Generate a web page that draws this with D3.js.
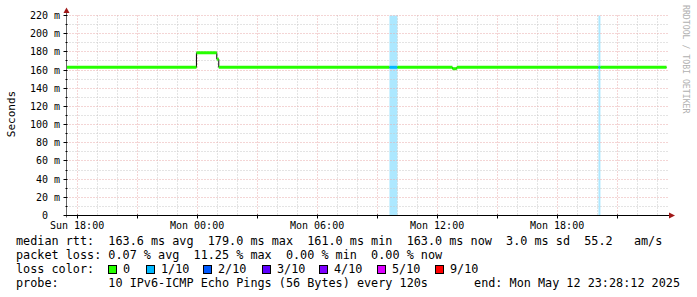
<!DOCTYPE html>
<html>
<head>
<meta charset="utf-8">
<script src="https://cdn.jsdelivr.net/npm/d3@7"></script>
<style>
  body { margin: 0; background: #fff; }
  svg { display: block; }
  text { font-family: "DejaVu Sans Mono", monospace; }
</style>
</head>
<body>
<svg id="chart" width="697" height="297"></svg>
<script>
// median rtt, as steps: each value holds from its time until the next one
var stepTimes = ["2025-05-11 17:28:12", "2025-05-11 23:58:00", "2025-05-12 00:59:00",
                 "2025-05-12 01:05:00", "2025-05-12 09:37:00", "2025-05-12 10:01:00",
                 "2025-05-12 12:46:00", "2025-05-12 12:59:00", "2025-05-12 20:04:00",
                 "2025-05-12 20:10:00"];
var stepMedian = [163, 179, 172, 163, 163, 163, 161.5, 163, 163, 163]; // ms
var stepLoss = [0, 0, 0, 0, 1, 0, 0, 0, 1, 0]; // pings lost out of 10
var endTime = "2025-05-12 23:28:12";

var yTicks = [0, 20, 40, 60, 80, 100, 120, 140, 160, 180, 200, 220];

var lossKeys = ["0", "1/10", "2/10", "3/10", "4/10", "5/10", "9/10"];
var lossColors = ["#26ff00", "#00b8ff", "#0059ff", "#5e00ff", "#7e00ff", "#dd00ff", "#ff0000"];
var lossBoxX = [108, 146, 203, 262, 319, 377, 435];

var legendLines = [
  "median rtt:  163.6 ms avg  179.0 ms max  161.0 ms min  163.0 ms now  3.0 ms sd  55.2   am/s",
  "packet loss: 0.07 % avg  11.25 % max  0.00 % min  0.00 % now",
  "loss color:",
  "probe:       10 IPv6-ICMP Echo Pings (56 Bytes) every 120s"
];
var endLabel = "end: Mon May 12 23:28:12 2025";

var parse = d3.timeParse("%Y-%m-%d %H:%M:%S");
var times = stepTimes.map(parse);
var tEnd = parse(endTime);

var svg = d3.select("#chart");
var plotL = 66.5, plotR = 666.5, plotT = 15.5, plotB = 215.5;

var x = d3.scaleTime().domain([times[0], tEnd]).range([plotL, plotR]);
var y = d3.scaleLinear().domain([0, 220]).range([plotB, plotT]);

function px(v) { return Math.round(v - 0.5) + 0.5; }

// loss background bars
var segs = times.map(function (t, i) {
  return { t0: t, t1: i + 1 < times.length ? times[i + 1] : tEnd, v: stepMedian[i], loss: stepLoss[i] };
});

svg.append("g").selectAll("rect")
  .data(segs.filter(function (d) { return d.loss > 0; }))
  .enter().append("rect")
  .attr("x", function (d) { return x(d.t0); })
  .attr("width", function (d) { return Math.max(2, x(d.t1) - x(d.t0)); })
  .attr("y", plotT)
  .attr("height", plotB - plotT)
  .attr("fill", function (d) { return lossColors[d.loss]; })
  .attr("fill-opacity", 0.32);

// grid
var grid = svg.append("g").attr("stroke-dasharray", "1,2").attr("stroke-width", 1);
var minorY = d3.range(10, 221, 10).filter(function (v) { return v % 20 !== 0; });
grid.selectAll("line.hmin").data(minorY).enter().append("line")
  .attr("x1", plotL).attr("x2", plotR + 2)
  .attr("y1", function (d) { return px(y(d)); }).attr("y2", function (d) { return px(y(d)); })
  .attr("stroke", "#c8c8c8");
grid.selectAll("line.vmin").data(x.ticks(d3.timeHour.every(1)).filter(function (d) { return d.getHours() % 3 !== 0; }))
  .enter().append("line")
  .attr("x1", function (d) { return px(x(d)); }).attr("x2", function (d) { return px(x(d)); })
  .attr("y1", plotT).attr("y2", plotB)
  .attr("stroke", "#c8c8c8");
grid.selectAll("line.hmaj").data(yTicks.slice(1)).enter().append("line")
  .attr("x1", plotL).attr("x2", plotR + 2)
  .attr("y1", function (d) { return px(y(d)); }).attr("y2", function (d) { return px(y(d)); })
  .attr("stroke", "#e8aaaa");
grid.selectAll("line.vmaj").data(x.ticks(d3.timeHour.every(3)))
  .enter().append("line")
  .attr("x1", function (d) { return px(x(d)); }).attr("x2", function (d) { return px(x(d)); })
  .attr("y1", plotT).attr("y2", plotB)
  .attr("stroke", "#e8aaaa");

// median line: thin black steps, then thick loss-coloured levels
var stepLine = d3.line()
  .x(function (d) { return d[0]; })
  .y(function (d) { return d[1]; })
  .curve(d3.curveStepAfter);
var pts = segs.map(function (d) { return [x(d.t0), y(d.v)]; });
pts.push([x(tEnd), y(segs[segs.length - 1].v)]);
svg.append("path").attr("d", stepLine(pts))
  .attr("fill", "none").attr("stroke", "#000").attr("stroke-width", 1);

svg.append("g").selectAll("line").data(segs).enter().append("line")
  .attr("x1", function (d) { return x(d.t0); })
  .attr("x2", function (d) { return x(d.t1); })
  .attr("y1", function (d) { return y(d.v); })
  .attr("y2", function (d) { return y(d.v); })
  .attr("stroke", function (d) { return lossColors[d.loss]; })
  .attr("stroke-width", 3);

// axes
svg.append("line").attr("x1", plotL).attr("x2", plotR + 3).attr("y1", plotB).attr("y2", plotB)
  .attr("stroke", "#000");
svg.append("line").attr("x1", plotL).attr("x2", plotL).attr("y1", plotB + 2).attr("y2", plotT - 3)
  .attr("stroke", "#666");
svg.append("path").attr("d", "M" + plotL + ",7.5L" + (plotL - 3) + ",13L" + (plotL + 3) + ",13Z").attr("fill", "#a01818");
svg.append("path").attr("d", "M675," + plotB + "L669," + (plotB - 3) + "L669," + (plotB + 3) + "Z").attr("fill", "#a01818");

// ticks
svg.append("g").selectAll("line").data(yTicks).enter().append("line")
  .attr("x1", plotL - 3).attr("x2", plotL + 1)
  .attr("y1", function (d) { return px(y(d)); }).attr("y2", function (d) { return px(y(d)); })
  .attr("stroke", "#000");
svg.append("g").selectAll("line").data(minorY).enter().append("line")
  .attr("x1", plotL - 1).attr("x2", plotL + 1)
  .attr("y1", function (d) { return px(y(d)); }).attr("y2", function (d) { return px(y(d)); })
  .attr("stroke", "#000");
svg.append("g").selectAll("line").data(x.ticks(d3.timeHour.every(3))).enter().append("line")
  .attr("x1", function (d) { return px(x(d)); }).attr("x2", function (d) { return px(x(d)); })
  .attr("y1", plotB - 1).attr("y2", plotB + 3)
  .attr("stroke", "#000");

svg.append("g").selectAll("text").data(yTicks).enter().append("text")
  .attr("x", 60).attr("y", function (d) { return y(d) + 3.5; })
  .attr("text-anchor", "end").attr("font-size", "10px").attr("fill", "#000")
  .attr("xml:space", "preserve")
  .text(function (d) { return d === 0 ? "0  " : d + " m"; });

var fmt = d3.timeFormat("%a %H:%M");
svg.append("g").selectAll("text").data(x.ticks(d3.timeHour.every(6))).enter().append("text")
  .attr("x", function (d) { return x(d); }).attr("y", 228.5)
  .attr("text-anchor", "middle").attr("font-size", "10px").attr("fill", "#000")
  .text(fmt);

svg.append("text").attr("transform", "translate(15,114) rotate(-90)")
  .attr("text-anchor", "middle").attr("font-size", "11px").text("Seconds");

svg.append("text").attr("transform", "translate(683,5) rotate(90)")
  .attr("text-anchor", "start").attr("font-size", "8.2px").attr("fill", "#b0b0b0")
  .text("RRDTOOL / TOBI OETIKER");

// legend
svg.append("g").selectAll("text").data(legendLines).enter().append("text")
  .attr("x", 16).attr("y", function (d, i) { return 245 + i * 14; })
  .attr("font-size", "11.8px").attr("xml:space", "preserve").attr("fill", "#000")
  .text(function (d) { return d; });

svg.append("text").attr("x", 680).attr("y", 287).attr("text-anchor", "end")
  .attr("font-size", "11.8px").text(endLabel);

var keys = svg.append("g").selectAll("g").data(lossKeys).enter().append("g");
keys.append("rect")
  .attr("x", function (d, i) { return lossBoxX[i] + 0.5; }).attr("y", 265.5)
  .attr("width", 8).attr("height", 8)
  .attr("fill", function (d, i) { return lossColors[i]; })
  .attr("stroke", "#000");
keys.append("text")
  .attr("x", function (d, i) { return lossBoxX[i] + 15; }).attr("y", 273)
  .attr("font-size", "11.8px").text(function (d) { return d; });
</script>
</body>
</html>
